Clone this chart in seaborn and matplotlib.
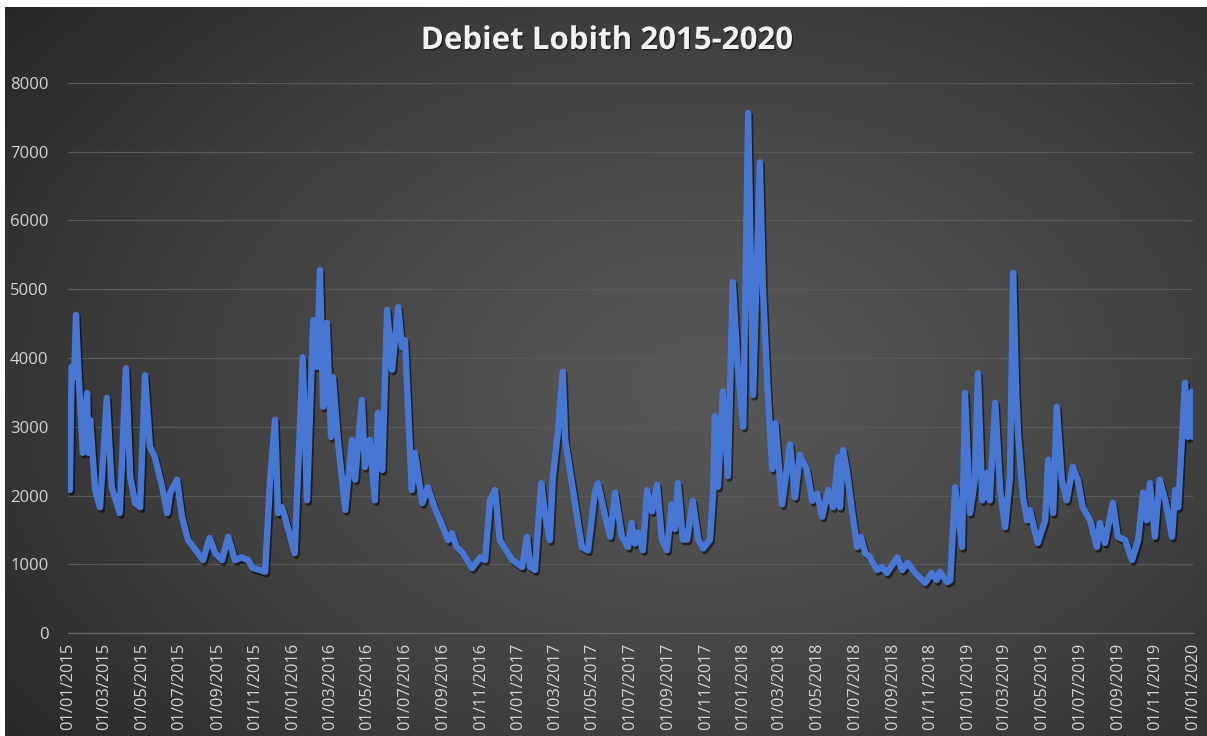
import numpy as np
import pandas as pd
import matplotlib
matplotlib.use("Agg")
import matplotlib.pyplot as plt
import matplotlib.dates as mdates
import matplotlib.patheffects as pe
import seaborn as sns

# ---------------- data ----------------
title_text = "Debiet Lobith 2015-2020"
start_date = "2015-01-01"
end_date = "2020-01-01"

# days since 01/01/2015
day_offsets = [
    0, 3, 6, 10, 13, 16, 24, 31, 33, 36, 44, 52, 63, 71, 84, 94, 101, 109, 117, 125,
    133, 141, 153, 161, 166, 177, 185, 195, 211, 219, 230, 239, 250, 260, 271, 282,
    292, 300, 312, 320, 328, 336, 341, 347, 352, 368, 381, 388, 398, 404, 409, 414,
    420, 427, 430, 438, 450, 461, 466, 477, 482, 490, 498, 503, 510, 518, 526, 536,
    542, 547, 558, 563, 575, 584, 596, 604, 617, 623, 631, 641, 656, 669, 677, 685,
    693, 701, 721, 737, 745, 750, 758, 768, 774, 782, 787, 795, 803, 807, 812, 834,
    844, 855, 860, 872, 880, 888, 899, 909, 915, 920, 925, 933, 940, 948, 956, 964,
    972, 980, 985, 990, 998, 1005, 1014, 1023, 1031, 1042, 1047, 1050, 1055, 1063,
    1071, 1079, 1087, 1096, 1104, 1112, 1123, 1128, 1136, 1143, 1148, 1159, 1172,
    1180, 1188, 1199, 1208, 1216, 1224, 1234, 1242, 1250, 1253, 1258, 1264, 1273,
    1281, 1287, 1294, 1302, 1313, 1321, 1329, 1346, 1354, 1363, 1375, 1391, 1402,
    1410, 1415, 1427, 1432, 1440, 1451, 1456, 1464, 1472, 1477, 1484, 1492, 1496,
    1505, 1513, 1521, 1529, 1534, 1539, 1542, 1550, 1557, 1561, 1574, 1586, 1591,
    1599, 1605, 1613, 1621, 1631, 1639, 1647, 1659, 1670, 1675, 1683, 1688, 1696,
    1704, 1716, 1727, 1737, 1745, 1751, 1756, 1764, 1772, 1781, 1792, 1797, 1802,
    1808, 1813, 1818, 1824, 1826,
]
discharge = [
    2250, 2080, 3870, 3720, 4625, 3970, 2620, 3490, 2620, 3100, 2080, 1830, 3420, 2120, 1745, 3850, 2270, 1890, 1830, 3750,
    2710, 2560, 2120, 1745, 2040, 2230, 1690, 1350, 1160, 1060, 1380, 1160, 1060, 1400, 1060, 1100,
    1060, 945, 916, 890, 2230, 3100, 1745, 1830, 1690, 1160, 4010, 1930, 4550, 3870, 5280, 3290,
    4510, 2850, 3720, 2810, 1790, 2810, 2230, 3390, 2415, 2810, 1930, 3200, 2370, 4700, 3830, 4740,
    4160, 4260, 2080, 2620, 1890, 2120, 1800, 1640, 1350, 1450, 1250, 1160, 945, 1100, 1060, 1930,
    2080, 1350, 1060, 960, 1400, 960, 916, 2180, 1745, 1350, 2270, 2910, 3800, 2810, 2520, 1250,
    1200, 2040, 2180, 1690, 1400, 2040, 1400, 1250, 1600, 1300, 1462, 1205, 2077, 1769, 2154, 1359,
    1205, 1872, 1513, 2180, 1359, 1359, 1923, 1359, 1231, 1359, 2026, 3154, 2128, 3513,
    2282, 5103, 3872, 3000, 7564, 3462, 6846, 5000, 3462, 2385, 3051, 1872, 2744,
    1974, 2590, 2385, 1923, 2026, 1690, 2080, 1830, 2560, 1830, 2660, 2370, 1745,
    1250, 1400, 1160, 1100, 916, 960, 873, 1100, 916, 1020, 873, 727, 873,
    770, 890, 740, 770, 2120, 1250, 3490, 1745, 2230, 3780, 1930, 2330, 1930,
    3350, 2080, 1540, 2270, 5240, 3500, 2910, 1980, 1640, 1790, 1310, 1640, 2520,
    1745, 3290, 2230, 1930, 2415, 2230, 1830, 1640, 1250, 1600, 1310, 1540, 1890,
    1400, 1350, 1060, 1350, 2040, 1640, 2180, 1400, 2230, 1930, 1400, 2080, 1830,
    2810, 3640, 2850, 3510, 2850,
]
y_ticks = [0, 1000, 2000, 3000, 4000, 5000, 6000, 7000, 8000]

df = pd.DataFrame({
    "datum": pd.to_datetime(start_date) + pd.to_timedelta(day_offsets, unit="D"),
    "debiet": discharge,
})

# ---------------- style ----------------
sns.set_style("dark")
plt.rcParams["font.family"] = ["Open Sans", "DejaVu Sans"]

W, H, DPI = 1207, 736, 100
fig = plt.figure(figsize=(W / DPI, H / DPI), dpi=DPI, facecolor="white")

# dark radial-gradient background (white strip at top and left like the reference)
bg_left, bg_top = 5 / W, 7 / H
bg_ax = fig.add_axes([bg_left, 0, 1 - bg_left, 1 - bg_top], zorder=0)
ny, nx = 300, 500
yy, xx = np.mgrid[0:1:ny * 1j, 0:1:nx * 1j]
r = np.sqrt(((xx - 0.58) / 0.75) ** 2 + ((yy - 0.52) / 0.85) ** 2)
r = np.clip(r, 0, 1)
c_center, c_edge = 0.34, 0.15
grad = c_center + (c_edge - c_center) * r ** 1.3
bg_ax.imshow(np.dstack([grad, grad, grad]), aspect="auto", extent=[0, 1, 0, 1],
             interpolation="bilinear")
bg_ax.set_axis_off()

# main axes
left, right = 68 / W, 1193 / W
bottom, top = 1 - 633 / H, 1 - 83 / H
ax = fig.add_axes([left, bottom, right - left, top - bottom], zorder=1)
ax.set_facecolor("none")

line_color = "#4777d3"
sns.lineplot(data=df, x="datum", y="debiet", ax=ax, color=line_color,
             linewidth=4.6, solid_joinstyle="round",
             path_effects=[pe.SimpleLineShadow(offset=(1.2, -1.8), shadow_color="black", alpha=0.55),
                           pe.Normal()])

ax.set_xlim(pd.Timestamp(start_date), pd.Timestamp(end_date))
ax.set_ylim(0, 8000)
ax.set_yticks(y_ticks)
ax.set_yticklabels([str(v) for v in y_ticks])
ax.xaxis.set_major_locator(mdates.MonthLocator(bymonth=[1, 3, 5, 7, 9, 11]))
ax.xaxis.set_major_formatter(mdates.DateFormatter("%d/%m/%Y"))

ax.grid(axis="y", color="#5a5a5a", linewidth=0.9)
ax.grid(axis="x", visible=False)
ax.set_axisbelow(True)
for s in ["top", "right", "left"]:
    ax.spines[s].set_visible(False)
ax.spines["bottom"].set_color("#6a6a6a")
ax.spines["bottom"].set_linewidth(0.9)

ax.tick_params(axis="x", which="major", length=5, width=0.8, color="#6a6a6a",
               labelsize=11.8, labelcolor="#d4d4d4", labelrotation=90, pad=2)
ax.tick_params(axis="y", length=0, labelsize=12, labelcolor="#d4d4d4", pad=14)
for lab in ax.get_xticklabels() + ax.get_yticklabels():
    lab.set_fontweight("medium")
for lab in ax.get_xticklabels():
    lab.set_verticalalignment("top")
ax.set_xlabel("")
ax.set_ylabel("")

fig.text(0.503, 1 - 41 / H, title_text, ha="center", va="center",
         fontsize=22.5, fontweight="bold", color="#f2f2f2",
         path_effects=[pe.withSimplePatchShadow(offset=(1, -1), shadow_rgbFace="black", alpha=0.5)])

fig.savefig("out.png", dpi=DPI, facecolor=fig.get_facecolor())
